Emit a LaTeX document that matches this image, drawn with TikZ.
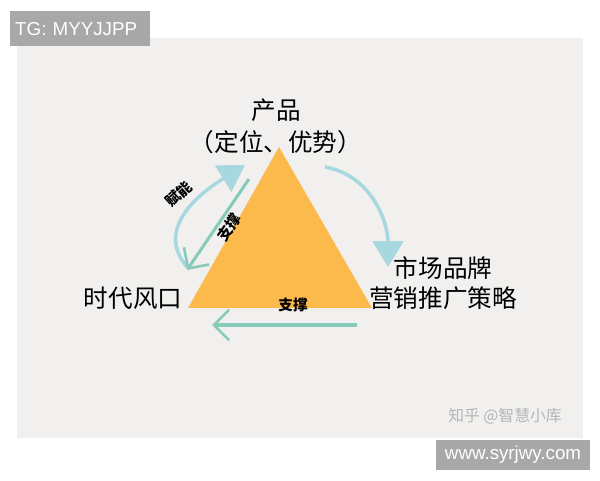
\documentclass[tikz,border=0pt]{standalone}
\usepackage{fontspec}
\setmainfont{Noto Sans CJK SC}
\newfontfamily\latinfont{Liberation Sans}
\usepackage{tikz}
\usetikzlibrary{arrows.meta}

\definecolor{paper}{HTML}{F1F0EE}
\definecolor{tri}{HTML}{FCB94C}
\definecolor{arcblue}{HTML}{A7D8E0}
\definecolor{stemgreen}{HTML}{86CBB9}
\definecolor{stampgray}{HTML}{A8A8A8}
\definecolor{wmgray}{HTML}{B5B5B5}

\begin{document}
\begin{tikzpicture}[
  x=0.03cm, y=0.03cm,
  every node/.style={align=center, inner sep=0pt},
  vertex/.style={font=\fontsize{21}{25.5}\selectfont},
  tagtext/.style={font=\fontsize{12.5}{14}\selectfont\bfseries, text=black},
  stamp/.style={fill=stampgray, text=white, font=\latinfont\fontsize{16}{18}\selectfont},
  curvearrow/.style={arcblue, line width=3pt, -{Triangle[width=26pt, length=22pt]}},
  pusharrow/.style={stemgreen, line width=2.6pt, -{Straight Barb[length=13pt, width=26pt, line width=2.2pt]}}
  ]

\useasboundingbox[fill=white] (0,0) rectangle (600,480);
\fill[paper] (17,42) rectangle (583,442);

\coordinate (apex) at (279,333);
\coordinate (bl) at (188,172);
\coordinate (br) at (372,172);
\fill[tri] (apex) -- (bl) -- (br) -- cycle;

\node[vertex] (product) at (276,370) {产品};
\node[vertex] (position) at (276,338) {（定位、优势）};
\node[vertex] (market) at (443,197) {市场品牌\\营销推广策略};
\node[vertex] (era) at (133,182) {时代风口};

% arrows round the triangle
\coordinate (fn s) at (187,213);
\coordinate (fn e) at (245,315);
\coordinate (sc s) at (325,313);
\coordinate (sc e) at (388,213);
\coordinate (zc s) at (249,301);
\coordinate (zc e) at (187,210);
\coordinate (zb s) at (357,155);
\coordinate (zb e) at (212,155);

\draw[curvearrow] (fn s) .. controls +(130:50) and +(212:55) .. (fn e);
\draw[curvearrow] (sc s) to[out=-10, in=90] (sc e);
\draw[pusharrow] (zc s) -- (zc e);
\draw[pusharrow] (zb s) -- (zb e);

\node[tagtext, rotate=42] (fn) at (179,286) {赋能};
\node[tagtext, rotate=55] (zc) at (229,253) {支撑};
\node[tagtext] (zb) at (293,175) {支撑};

\node[stamp, anchor=north west, inner xsep=0.15cm, minimum height=1.05cm, text width=3.9cm, align=left] (tg) at (10,469) {TG: MYYJJPP};
\node[stamp, minimum width=4.62cm, minimum height=0.9cm] (web) at (513,25) {www.syrjwy.com};
\node[font=\fontsize{13.5}{15}\selectfont, text=wmgray] (wm) at (505,64) {知乎 @智慧小库};
\end{tikzpicture}
\end{document}
